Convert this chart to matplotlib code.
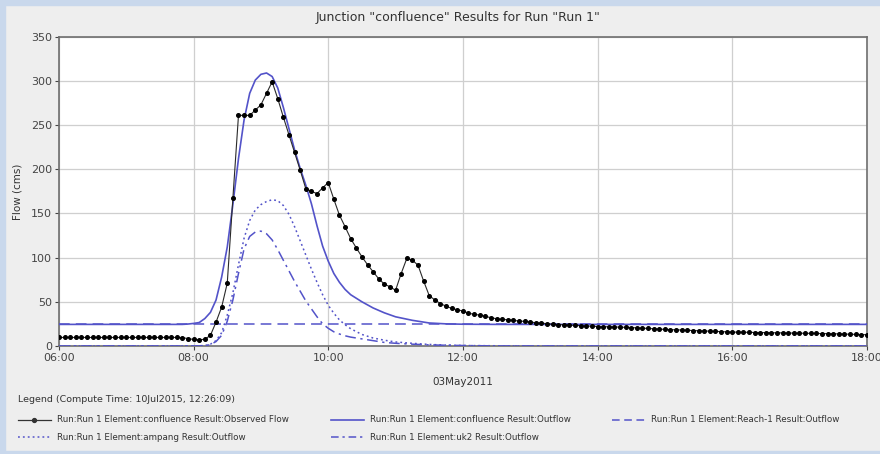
import matplotlib
import matplotlib.pyplot as plt
import matplotlib.dates as mdates
import pandas as pd
from matplotlib.lines import Line2D
from matplotlib.patches import Rectangle

matplotlib.use("Agg")

DAY = "2011-05-03"

# observed flow at the confluence, one reading every 5 minutes, 06:00 -> 18:00
obs_flow = [
    9.6, 9.6, 9.6, 9.6, 9.6, 9.6, 9.6, 9.6, 9.6, 9.6, 9.6, 9.6,      # 06:00-06:55
    9.6, 9.6, 9.6, 9.6, 9.6, 9.6, 9.6, 9.6, 9.6, 9.6, 9.4, 8.3,      # 07:00-07:55
    7.3, 7.0, 7.5, 12, 27, 44, 71, 167, 261, 261, 261, 267,          # 08:00-08:55
    273, 286, 299, 280, 259, 239, 219, 199, 178, 175, 172.5, 179,    # 09:00-09:55
    185, 166, 148, 135, 121.5, 111, 101, 92, 84, 76, 70, 67,         # 10:00-10:55
    63, 82, 99, 97, 91.5, 73.5, 57, 52, 48, 45, 42.5, 41,            # 11:00-11:55
    39.5, 37.2, 35.7, 35, 33.5, 32, 30.8, 30, 29.7, 28.9, 28.2, 27.8,  # 12:00-12:55
    27, 26.3, 25.9, 25.1, 24.4, 24.2, 24.0, 23.6, 23.2, 23.0, 22.6, 22.3,  # 13:00-13:55
    22.0, 21.8, 21.7, 21.5, 21.3, 21.0, 20.8, 20.5, 20.2, 19.8, 19.4, 19.0,  # 14:00-14:55
    18.7, 18.5, 18.3, 18.0, 17.7, 17.4, 17.2, 17.0, 16.7, 16.5, 16.2, 16.0,  # 15:00-15:55
    15.7, 15.6, 15.5, 15.4, 15.2, 15.1, 15.0, 14.9, 14.8, 14.8, 14.7, 14.6,  # 16:00-16:55
    14.6, 14.4, 14.3, 14.1, 14.0, 13.9, 13.8, 13.6, 13.4, 13.2, 13.0, 12.8,  # 17:00-17:55
    12.7,                                                            # 18:00
]
obs_times = pd.date_range(f"{DAY} 06:00", periods=len(obs_flow), freq="5min")

# simulated series share one (uneven) time list
sim_clock = [
    "06:00", "07:00", "07:50", "07:55",
    "08:00", "08:05", "08:10", "08:15", "08:20", "08:25", "08:30", "08:35",
    "08:40", "08:45", "08:50", "08:55", "09:00", "09:05", "09:10", "09:15",
    "09:20", "09:25", "09:30", "09:35", "09:40", "09:45", "09:50", "09:55",
    "10:00", "10:05", "10:10", "10:15", "10:20",
    "10:30", "10:40", "10:50", "11:00", "11:15", "11:30", "11:45", "12:00",
    "12:30", "13:00", "14:00", "15:00", "16:00", "17:00", "18:00",
]
conf_outflow = [
    24.4, 24.4, 24.4, 24.8,
    25.5, 26.5, 31, 38, 52, 78, 112, 160,
    212, 256, 286, 301, 307.5, 309, 305, 292,
    270, 246, 222, 201, 182, 161, 136, 113,
    96, 82, 72, 64, 58,
    50, 43, 37.5, 33, 29, 26, 25, 24.6,
    24.4, 24.4, 24.4, 24.4, 24.4, 24.4, 24.4,
]
reach1_outflow = [
    24.4, 24.4, 24.4, 24.4,
    24.4, 24.4, 24.4, 24.4, 24.4, 24.4, 24.4, 24.4,
    24.4, 24.4, 24.4, 24.4, 24.4, 24.4, 24.4, 24.4,
    24.4, 24.4, 24.4, 24.4, 24.4, 24.4, 24.4, 24.4,
    24.4, 24.4, 24.4, 24.4, 24.4,
    24.4, 24.4, 24.4, 24.4, 24.4, 24.4, 24.4, 24.4,
    24.4, 24.4, 24.4, 24.4, 24.4, 24.4, 24.4,
]
ampang_outflow = [
    0, 0, 0, 0,
    0, 0.2, 0.5, 2, 6, 15, 35, 60,
    92, 122, 142, 154, 160, 163.5, 165.5, 164.5,
    159, 149, 135, 119, 103, 87, 72, 58,
    46, 37, 29.5, 24, 19.5,
    13, 9, 6.5, 4.5, 3, 1.7, 1, 0.5,
    0.2, 0, 0, 0, 0, 0, 0,
]
uk2_outflow = [
    0, 0, 0, 0,
    0, 0.1, 0.3, 1.5, 5, 12, 28, 52,
    82, 110, 124, 129, 130, 127, 120, 109,
    97, 85, 73, 62, 51, 42, 33, 25,
    20, 16, 13.5, 11.5, 10,
    8, 6, 4, 3, 2, 1.2, 0.8, 0.5,
    0, 0, 0, 0, 0, 0, 0,
]
sim_times = pd.to_datetime([f"{DAY} {c}" for c in sim_clock])

BLUE = "#5353c9"
BG = "#eeeeee"

fig = plt.figure(figsize=(8.8, 4.54), dpi=100, facecolor=BG)
# window frame strips
fig.patches.append(Rectangle((0, 0), 0.006, 1, transform=fig.transFigure,
                             color="#c9d8ec", zorder=0))
fig.patches.append(Rectangle((0, 0.99), 1, 0.01, transform=fig.transFigure,
                             color="#c9d8ec", zorder=0))
fig.patches.append(Rectangle((0, 0), 1, 0.006, transform=fig.transFigure,
                             color="#c9d8ec", zorder=0))

ax = fig.add_axes([0.067, 0.238, 0.918, 0.681])
ax.set_facecolor("white")

ax.plot(sim_times, reach1_outflow, color=BLUE, lw=1.1, dashes=(7, 4), zorder=3)
ax.plot(sim_times, ampang_outflow, color=BLUE, lw=1.1, dashes=(1.2, 2), zorder=3)
ax.plot(sim_times, uk2_outflow, color=BLUE, lw=1.1, dashes=(7, 3, 1.5, 3), zorder=3)
ax.plot(sim_times, conf_outflow, color=BLUE, lw=1.2, zorder=4)
ax.plot(obs_times, obs_flow, color="#2a2a2a", lw=0.8, marker="o", ms=2.6,
        mfc="black", mec="black", zorder=5)

ax.set_xlim(pd.Timestamp(f"{DAY} 06:00"), pd.Timestamp(f"{DAY} 18:00"))
ax.set_ylim(0, 350)
ax.set_yticks(range(0, 351, 50))
ax.xaxis.set_major_locator(mdates.HourLocator(byhour=range(6, 19, 2)))
ax.xaxis.set_major_formatter(mdates.DateFormatter("%H:%M"))
ax.grid(True, color="#cfcfcf", lw=0.9)
ax.set_axisbelow(True)
for s in ax.spines.values():
    s.set_color("#6e6e6e")
    s.set_linewidth(1.2)
ax.tick_params(labelsize=8, colors="#444444", length=3, width=0.8, pad=2)

ax.set_ylabel("Flow (cms)", fontsize=7.5, color="#333333", labelpad=6)
ax.set_xlabel("03May2011", fontsize=7.5, color="#333333", labelpad=10)
fig.text(0.52, 0.962, 'Junction "confluence" Results for Run "Run 1"',
         ha="center", va="center", fontsize=9, color="#333333")

# legend block, drawn by hand to match the row layout of the original
fig.text(0.021, 0.121, "Legend (Compute Time: 10Jul2015, 12:26:09)",
         fontsize=6.8, color="#333333", va="center")
entries = [
    (0.020, 0.075, "Run:Run 1 Element:confluence Result:Observed Flow",
     dict(color="#333333", lw=0.9, marker="o", ms=2.8, markevery=[1])),
    (0.376, 0.075, "Run:Run 1 Element:confluence Result:Outflow",
     dict(color=BLUE, lw=1.2)),
    (0.695, 0.075, "Run:Run 1 Element:Reach-1 Result:Outflow",
     dict(color=BLUE, lw=1.1, dashes=(5, 3))),
    (0.020, 0.037, "Run:Run 1 Element:ampang Result:Outflow",
     dict(color=BLUE, lw=1.1, dashes=(1.2, 2))),
    (0.376, 0.037, "Run:Run 1 Element:uk2 Result:Outflow",
     dict(color=BLUE, lw=1.1, dashes=(5, 2.5, 1.5, 2.5))),
]
for x0, y0, label, style in entries:
    fig.lines.append(Line2D([x0, x0 + 0.019, x0 + 0.038], [y0, y0, y0],
                            transform=fig.transFigure, **style))
    fig.text(x0 + 0.045, y0, label, fontsize=6.3, color="#333333", va="center")

fig.savefig("out.png", dpi=100, facecolor=BG)
plt.close(fig)
